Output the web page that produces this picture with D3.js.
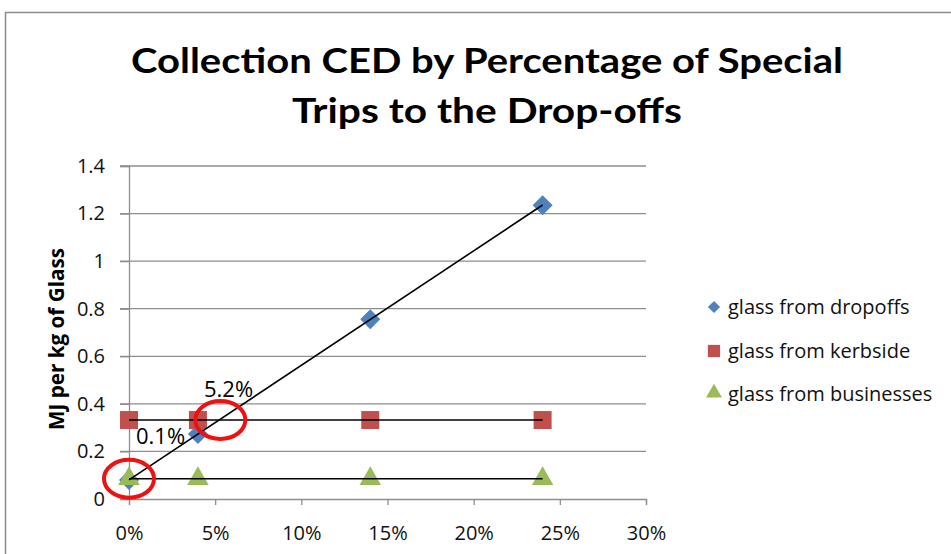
<!DOCTYPE html>
<html>
<head>
<meta charset="utf-8">
<script src="https://cdn.jsdelivr.net/npm/d3@7"></script>
<style>
  body { margin: 0; background: #fff; }
</style>
</head>
<body>
<div id="chart"></div>
<script>
// x values are shares of special trips, y values MJ per kg of glass
var xValues = [0, 0.04, 0.14, 0.24];
var dropoffs = [0.08, 0.273, 0.756, 1.235];
var kerbside = [0.332, 0.332, 0.332, 0.332];
var businesses = [0.085, 0.085, 0.085, 0.085];
var seriesNames = ["glass from dropoffs", "glass from kerbside", "glass from businesses"];
var yTicks = [0, 0.2, 0.4, 0.6, 0.8, 1, 1.2, 1.4];
var xTicks = [0, 0.05, 0.1, 0.15, 0.2, 0.25, 0.3];
// callouts on the chart
var callouts = [{x: 0, y: 0.085, label: "0.1%"}, {x: 0.053, y: 0.332, label: "5.2%"}];

var width = 951, height = 554;
var margin = {top: 166, left: 129, right: 305, bottom: 55};
var font = "'Open Sans', sans-serif";

var svg = d3.select("#chart").append("svg")
    .attr("width", width)
    .attr("height", height)
    .attr("font-family", font);

// chart frame
svg.append("rect")
    .attr("x", 5.5).attr("y", 12.5)
    .attr("width", 980).attr("height", 600)
    .attr("fill", "none")
    .attr("stroke", "#8c8c8c")
    .attr("stroke-width", 1.5);

var x = d3.scaleLinear().domain([0, 0.3]).range([margin.left, width - margin.right]);
var y = d3.scaleLinear().domain([0, 1.4]).range([height - margin.bottom, margin.top]);

// title
var title = svg.append("text")
    .attr("text-anchor", "middle")
    .attr("font-family", "Lato, sans-serif")
    .attr("font-weight", "bold")
    .attr("font-size", 35)
    .attr("fill", "#000");
title.append("tspan").attr("x", 487).attr("y", 73)
    .attr("textLength", 712).attr("lengthAdjust", "spacingAndGlyphs")
    .text("Collection CED by Percentage of Special");
title.append("tspan").attr("x", 487).attr("y", 123)
    .attr("textLength", 390).attr("lengthAdjust", "spacingAndGlyphs")
    .text("Trips to the Drop-offs");

// gridlines
svg.append("g")
    .selectAll("line")
    .data(yTicks.slice(1))
    .enter().append("line")
    .attr("x1", x(0) - 9).attr("x2", x(0.3))
    .attr("y1", function(d) { return y(d); })
    .attr("y2", function(d) { return y(d); })
    .attr("stroke", "#8e8e8e")
    .attr("stroke-width", 1.3);

// y axis
var yAxis = svg.append("g")
    .attr("transform", "translate(" + x(0) + ",0)")
    .call(d3.axisLeft(y).tickValues(yTicks).tickSize(9).tickPadding(15).tickFormat(d3.format("")));
// x axis
var xAxis = svg.append("g")
    .attr("transform", "translate(0," + y(0) + ")")
    .call(d3.axisBottom(x).tickValues(xTicks).tickSize(6).tickPadding(21).tickFormat(d3.format(".0%")));

[yAxis, xAxis].forEach(function(a) {
    a.attr("font-family", font).attr("font-size", 20);
    a.select(".domain").attr("stroke", "#8e8e8e").attr("stroke-width", 1.3);
    a.selectAll(".tick line").attr("stroke", "#8e8e8e").attr("stroke-width", 1.3);
    a.selectAll(".tick text").attr("fill", "#111");
});

// y axis title
svg.append("text")
    .attr("transform", "translate(64,339) rotate(-90)")
    .attr("text-anchor", "middle")
    .attr("font-weight", "bold")
    .attr("font-size", 21)
    .attr("textLength", 182).attr("lengthAdjust", "spacingAndGlyphs")
    .text("MJ per kg of Glass");

var colors = ["#4f81bd", "#c0504d", "#9bbb59"];
var allSeries = [dropoffs, kerbside, businesses];

// markers
var symbols = [
    d3.symbol().type(d3.symbolSquare).size(200),
    d3.symbol().type(d3.symbolSquare).size(324),
    d3.symbol().type(d3.symbolTriangle).size(200)
];

allSeries.forEach(function(values, s) {
    svg.append("g")
        .selectAll("path")
        .data(values)
        .enter().append("path")
        .attr("d", symbols[s]())
        .attr("fill", colors[s])
        .attr("transform", function(d, i) {
            var t = "translate(" + x(xValues[i]) + "," + y(d) + ")";
            if (s === 0) t += " rotate(45)";
            return t;
        });
});

// linear trendlines
var line = d3.line()
    .x(function(d) { return x(d[0]); })
    .y(function(d) { return y(d[1]); });

allSeries.forEach(function(values) {
    var n = values.length;
    var mx = d3.mean(xValues), my = d3.mean(values);
    var sxy = d3.sum(xValues, function(v, i) { return (v - mx) * (values[i] - my); });
    var sxx = d3.sum(xValues, function(v) { return (v - mx) * (v - mx); });
    var slope = sxy / sxx, icpt = my - slope * mx;
    var x0 = xValues[0], x1 = xValues[n - 1];
    svg.append("path")
        .attr("d", line([[x0, icpt + slope * x0], [x1, icpt + slope * x1]]))
        .attr("fill", "none")
        .attr("stroke", "#000")
        .attr("stroke-width", 1.6);
});

// red circles and labels
svg.selectAll(".callout")
    .data(callouts)
    .enter().append("ellipse")
    .attr("class", "callout")
    .attr("cx", function(d) { return x(d.x); })
    .attr("cy", function(d) { return y(d.y); })
    .attr("rx", 25)
    .attr("ry", 19)
    .attr("fill", "none")
    .attr("stroke", "#ee1111")
    .attr("stroke-width", 4);

svg.append("text")
    .attr("x", 136).attr("y", 444)
    .attr("font-size", 22)
    .text(callouts[0].label);
svg.append("text")
    .attr("x", 204).attr("y", 397)
    .attr("font-size", 22)
    .text(callouts[1].label);

// legend
var legend = svg.append("g").attr("transform", "translate(714,0)");
var legendY = [307, 351, 394];
seriesNames.forEach(function(name, s) {
    var g = legend.append("g").attr("transform", "translate(0," + legendY[s] + ")");
    var sym = s === 0 ? d3.symbol().type(d3.symbolSquare).size(75)
        : s === 1 ? d3.symbol().type(d3.symbolSquare).size(150)
        : d3.symbol().type(d3.symbolTriangle).size(110);
    g.append("path")
        .attr("d", sym())
        .attr("fill", colors[s])
        .attr("transform", s === 0 ? "rotate(45)" : s === 2 ? "translate(0,-1)" : null);
    g.append("text")
        .attr("x", 14).attr("y", 7)
        .attr("font-size", 20)
        .attr("fill", "#111")
        .text(name);
});
</script>
</body>
</html>
